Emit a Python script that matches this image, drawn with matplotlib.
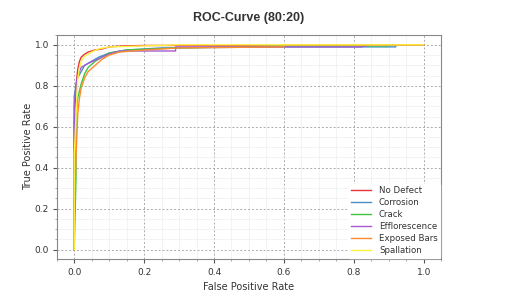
import matplotlib
matplotlib.use('Agg')
import matplotlib.pyplot as plt
from matplotlib.ticker import MultipleLocator

# ROC points (FPR, TPR)
classes = ['No Defect', 'Corrosion', 'Crack', 'Efflorescence', 'Exposed Bars', 'Spallation']
colors = ['#e8323c', '#4a8fc7', '#3fc43f', '#a45ad2', '#ff8a2e', '#fff23a']

fpr_no_defect = [0.0, 0.0, 0.005, 0.01, 0.015, 0.02, 0.03, 0.04, 0.06, 0.08, 0.1, 0.14, 0.2, 0.82, 0.86, 1.0]
tpr_no_defect = [0.0, 0.62, 0.8, 0.88, 0.92, 0.94, 0.955, 0.965, 0.975, 0.98, 0.99, 0.995, 0.997, 0.997, 1.0, 1.0]

fpr_corrosion = [0.0, 0.0, 0.005, 0.01, 0.02, 0.03, 0.05, 0.07, 0.1, 0.15, 0.25, 0.6, 0.92, 0.92, 1.0]
tpr_corrosion = [0.0, 0.75, 0.8, 0.84, 0.87, 0.9, 0.92, 0.94, 0.96, 0.975, 0.985, 0.99, 0.99, 1.0, 1.0]

fpr_crack = [0.0, 0.005, 0.005, 0.01, 0.02, 0.03, 0.04, 0.06, 0.08, 0.1, 0.15, 0.3, 0.6, 0.9, 0.9, 1.0]
tpr_crack = [0.0, 0.35, 0.65, 0.74, 0.81, 0.86, 0.89, 0.92, 0.94, 0.96, 0.975, 0.985, 0.995, 0.995, 1.0, 1.0]

fpr_efflorescence = [0.0, 0.0, 0.005, 0.01, 0.02, 0.04, 0.06, 0.08, 0.1, 0.13, 0.29, 0.29, 0.82, 0.85, 1.0]
tpr_efflorescence = [0.0, 0.7, 0.8, 0.85, 0.89, 0.91, 0.925, 0.94, 0.955, 0.97, 0.97, 0.99, 0.99, 1.0, 1.0]

fpr_exposed_bars = [0.0, 0.0, 0.005, 0.01, 0.015, 0.02, 0.03, 0.04, 0.06, 0.08, 0.1, 0.13, 0.2, 0.3, 0.6, 0.6, 1.0]
tpr_exposed_bars = [0.0, 0.15, 0.45, 0.66, 0.74, 0.79, 0.84, 0.87, 0.9, 0.93, 0.95, 0.965, 0.975, 0.985, 0.99, 1.0, 1.0]

fpr_spallation = [0.0, 0.0, 0.0, 0.005, 0.01, 0.015, 0.02, 0.03, 0.05, 0.07, 0.1, 0.2, 0.3, 1.0]
tpr_spallation = [0.0, 0.2, 0.46, 0.65, 0.83, 0.89, 0.92, 0.945, 0.965, 0.98, 0.99, 0.995, 1.0, 1.0]

fprs = [fpr_no_defect, fpr_corrosion, fpr_crack, fpr_efflorescence, fpr_exposed_bars, fpr_spallation]
tprs = [tpr_no_defect, tpr_corrosion, tpr_crack, tpr_efflorescence, tpr_exposed_bars, tpr_spallation]

fig, ax = plt.subplots(figsize=(5.16, 3.01), dpi=100)
fig.subplots_adjust(left=0.11, right=0.855, top=0.885, bottom=0.14)

for name, c, x, y in zip(classes, colors, fprs, tprs):
    ax.plot(x, y, color=c, linewidth=1.0, label=name)

ax.set_xlim(-0.05, 1.05)
ax.set_ylim(-0.045, 1.05)
ax.xaxis.set_major_locator(MultipleLocator(0.2))
ax.yaxis.set_major_locator(MultipleLocator(0.2))
ax.xaxis.set_minor_locator(MultipleLocator(0.05))
ax.yaxis.set_minor_locator(MultipleLocator(0.05))
ax.grid(True, which='major', linestyle=(0, (2, 2)), color='#aaaaaa', linewidth=0.7)
ax.grid(True, which='minor', linestyle='-', color='#eeeeee', linewidth=0.5)
ax.set_axisbelow(True)

for s in ax.spines.values():
    s.set_color('#888888')
    s.set_linewidth(0.8)
ax.tick_params(axis='both', which='major', labelsize=6.5, colors='#555555', labelcolor='#333333', length=3)
ax.tick_params(axis='y', which='major', pad=2.5)
ax.tick_params(axis='both', which='minor', colors='#999999', length=1.5)

ax.set_xlabel('False Positive Rate', fontsize=7, color='#333333', labelpad=4)
ax.set_ylabel('True Positive Rate', fontsize=7, color='#333333', labelpad=1)
ax.set_title('ROC-Curve (80:20)', fontsize=9, fontweight='bold', color='#333333',
             family='Liberation Sans', pad=10)

leg = ax.legend(loc='lower right', fontsize=6.2, frameon=True, framealpha=1.0,
                edgecolor='white', handlelength=2.4, borderaxespad=0.1, borderpad=0.3,
                labelspacing=0.35, handletextpad=0.9)
for t in leg.get_texts():
    t.set_color('#333333')

fig.savefig('out.png', dpi=100)
